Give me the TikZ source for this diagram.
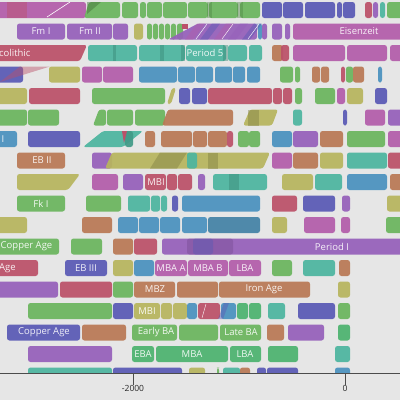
\documentclass[tikz,border=0pt]{standalone}
\usepackage{fontspec}
\usepackage{tikz}
\usetikzlibrary{positioning}
\newfontfamily\labfont{Open Sans}
\definecolor{bg}{HTML}{E6E6E6}
\definecolor{gr}{HTML}{6BB55E}
\definecolor{em}{HTML}{4DB36F}
\definecolor{mg}{HTML}{B35DAA}
\definecolor{pu}{HTML}{9660BA}
\definecolor{ix}{HTML}{5A5AB5}
\definecolor{bl}{HTML}{4B92BF}
\definecolor{db}{HTML}{4483A6}
\definecolor{te}{HTML}{4DB59F}
\definecolor{or}{HTML}{B97955}
\definecolor{rd}{HTML}{BB5169}
\definecolor{ol}{HTML}{B7B55E}
\tikzset{
  bar/.style={rounded corners=2.5pt,fill opacity=.93},
  shade/.style={fill opacity=.45},
  lab/.style={font=\labfont\fontsize{9.5}{10}\selectfont,text=white,text opacity=.9,inner sep=0pt},
  ticklab/.style={font=\labfont\fontsize{8.5}{9}\selectfont,text=black!85,inner sep=0pt},
  axisline/.style={draw=black!70,line width=.8pt},
}
% one period bar: row, from, to, colour
\newcommand{\pseg}[4]{\fill[#4,bar] (#2,{(#1-1)*21.5+2}) rectangle (#3,{(#1-1)*21.5+18});}
% slanted bar: row, bottom-left, top-left, top-right, bottom-right, colour
\newcommand{\pslant}[6]{\fill[#6,bar] (#2,{(#1-1)*21.5+18}) -- (#3,{(#1-1)*21.5+2}) -- (#4,{(#1-1)*21.5+2}) -- (#5,{(#1-1)*21.5+18}) -- cycle;}

\begin{document}
\begin{tikzpicture}[x=1pt,y=-1pt]
  \fill[bg] (0,0) rectangle (400,400);
  \useasboundingbox (0,0) rectangle (400,400);

  \begin{scope}
  \clip (0,0) rectangle (400,373);
  % row 1
  \foreach \a/\b/\c in {-10/86/mg,122/138/gr,140/146/gr,147/162/gr,163/187/gr,188/208/gr,
      209/238/gr,240/260/gr,262/282/ix,283/303/ix,305/335/ix,337/342/ix,343/355/ix,
      365/372/rd,373/378/pu,380/385/te,387/410/gr}
    \pseg{1}{\a}{\b}{\c};
  \fill[rd,shade] (7,2) rectangle (27,18);
  \draw[white,line width=.6pt] (47,17) -- (70,2);
  \pslant{1}{84}{89}{120}{120}{gr}
  \fill[gr!60!black,shade] (87,2) -- (101,2) -- (87,14) -- cycle;
  \foreach \a/\b in {207/212,237/243} \fill[gr!75!black,shade] (\a,2) rectangle (\b,18);
  % row 2
  \foreach \a/\b/\c in {17/65/pu,67/112/pu,113/128/pu,134/143/ol,147/152/gr,153/158/gr,
      159/164/gr,165/170/gr,171/176/gr,177/183/gr,258/262/bl,262/267/pu,272/282/pu,
      285/290/pu,293/410/mg}
    \pseg{2}{\a}{\b}{\c};
  \pslant{2}{168}{198}{257}{257}{pu}
  \foreach \s/\c in {185/mg,200/ix,214/mg,228/pu,242/ix}
    \fill[\c,shade] (\s,39.5) -- (\s+12,23.5) -- (\s+20,23.5) -- (\s+8,39.5) -- cycle;
  \foreach \s in {196,222,248} \draw[white,line width=.4pt] (\s,39) -- (\s+11,24);
  \fill[rd] (182,23.5) rectangle (188,29);
  \node[lab] (fmi) at (41,31.5) {Fm I};
  \node[lab] (fmii) at (90,31.5) {Fm II};
  \node[lab] (eisenzeit) at (359,31.5) {Eisenzeit};
  % row 3
  \pslant{3}{-10}{-10}{87}{80}{rd}
  \foreach \a/\b/\c in {88/137/te,139/185/te,186/226/te,228/247/te,249/262/te,
      272/283/or,281/289/rd,293/345/mg,347/387/mg,390/410/mg}
    \pseg{3}{\a}{\b}{\c};
  \foreach \a/\b in {113/116,160/164,181/185,223/228} \fill[te!75!black,shade] (\a,45) rectangle (\b,61);
  \node[lab,anchor=west] (colithic) at (-1,53) {colithic};
  \node[lab] (periodv) at (205,53) {Period 5};
  % row 4
  \foreach \a/\b/\c in {-10/23/ix,49/80/ol,82/102/mg,103/133/mg,139/177/bl,178/195/bl,
      196/213/bl,215/232/bl,233/245/bl,247/260/bl,280/293/gr,295/300/gr,312/320/or,
      321/329/or,341/345/rd,346/353/gr,353/364/or,378/382/bl}
    \pseg{4}{\a}{\b}{\c};
  \fill[rd,shade] (0,82) -- (20,66.5) -- (50,66.5) -- cycle;
  % row 5
  \foreach \a/\b/\c in {-10/27/ol,29/80/rd,92/165/gr,179/190/ix,192/207/ix,208/272/rd,
      273/282/rd,283/292/rd,295/302/gr,315/335/gr,337/345/mg,347/363/ol,375/387/ix}
    \pseg{5}{\a}{\b}{\c};
  \pslant{5}{167}{172}{176}{171}{ol}
  % row 6
  \foreach \a/\b/\c in {-10/27/gr,28/59/gr,107/133/gr,135/165/gr,293/302/te,343/347/ix,
      365/385/mg,388/410/pu}
    \pseg{6}{\a}{\b}{\c};
  \pslant{6}{93}{99}{106}{106}{gr}
  \pslant{6}{162}{168}{233}{233}{or}
  \pslant{6}{243}{250}{278}{272}{ol}
  \fill[ol!70!black,shade] (248,109.5) rectangle (259,125.5);
  % row 7
  \foreach \a/\b/\c in {-10/17/bl,28/80/ix,145/155/or,161/192/or,193/207/or,208/227/or,
      227/233/rd,238/249/gr,249/260/gr,272/292/bl,293/318/pu,320/343/or,347/385/gr,
      388/410/mg}
    \pseg{7}{\a}{\b}{\c};
  \pslant{7}{83}{103}{143}{123}{te}
  \pseg{7}{125}{133}{te!85!black}
  \fill[rd] (122,131) -- (127,131) -- (124,143) -- cycle;
  \node[lab] (ebi) at (3,139) {I};
  % row 8
  \foreach \a/\b/\c in {17/65/or,92/112/pu,272/292/mg,293/318/or,320/343/ol,347/387/te,
      388/410/rd}
    \pseg{8}{\a}{\b}{\c};
  \pslant{8}{105}{112}{270}{263}{ol}
  \fill[ol!70!black,shade] (150,168.5) -- (160,152.5) -- (187,152.5) -- (177,168.5) -- cycle;
  \fill[ol!70!black,shade] (208,152.5) rectangle (218,168.5);
  \pseg{8}{187}{197}{te}
  \node[lab] (ebii) at (42,160.5) {EB II};
  % row 9
  \foreach \a/\b/\c in {92/118/mg,123/143/pu,145/166/rd,167/177/rd,178/192/rd,198/205/pu,
      213/267/te,282/313/ol,315/342/te,347/387/bl,390/410/or}
    \pseg{9}{\a}{\b}{\c};
  \pslant{9}{17}{17}{80}{68}{ol}
  \fill[te!75!black,shade] (229,174) rectangle (239,190);
  \node[lab] (mbia) at (156,182) {MBI};
  % row 10
  \foreach \a/\b/\c in {17/65/gr,86/121/gr,128/150/te,151/160/te,161/167/te,172/178/ix,
      182/260/bl,272/297/rd,303/335/ix,342/350/pu,387/410/ol}
    \pseg{10}{\a}{\b}{\c};
  \node[lab] (fki) at (41,203.5) {Fk I};
  % row 11
  \foreach \a/\b/\c in {-10/27/ol,82/112/or,118/138/bl,139/159/bl,160/180/bl,182/207/bl,
      208/260/db,272/287/ol,304/335/mg,341/350/mg,386/410/gr}
    \pseg{11}{\a}{\b}{\c};
  % row 12
  \foreach \a/\b/\c in {-10/59/gr,71/102/gr,113/133/or,134/157/rd,162/410/pu}
    \pseg{12}{\a}{\b}{\c};
  \fill[pu!80!black,shade,rounded corners=2.5pt] (187,238.5) rectangle (233,254.5);
  \fill[ix,shade,rounded corners=2.5pt] (193,238.5) rectangle (213,254.5);
  \node[lab,anchor=west] (coppera) at (0.5,246.5) {Copper Age};
  \node[lab] (periodi) at (332,246.5) {Period I};
  % row 13
  \foreach \a/\b/\c in {-10/38/rd,65/107/ix,113/133/ol,134/154/bl,155/187/mg,188/228/mg,
      229/261/mg,272/292/gr,303/335/te,339/350/or}
    \pseg{13}{\a}{\b}{\c};
  \node[lab,anchor=west] (age) at (-1,268) {Age};
  \node[lab] (ebiii) at (86,268) {EB III};
  \node[lab] (mbaa) at (171,268) {MBA A};
  \node[lab] (mbab) at (208,268) {MBA B};
  \node[lab] (lbaa) at (245,268) {LBA};
  % row 14
  \foreach \a/\b/\c in {-10/58/pu,60/112/rd,113/133/gr,134/175/or,177/218/or,219/310/or,
      338/350/ol}
    \pseg{14}{\a}{\b}{\c};
  \node[lab] (mbz) at (155,289.5) {MBZ};
  \node[lab] (ironage) at (264,289.5) {Iron Age};
  % row 15
  \foreach \a/\b/\c in {28/112/gr,113/133/ix,134/160/ol,161/172/ol,173/187/ol,187/197/bl,
      198/220/rd,221/236/bl,237/248/em,249/261/em,268/285/te,298/335/ix,338/350/gr}
    \pseg{15}{\a}{\b}{\c};
  \fill[ix,shade] (218,319) -- (224,303) -- (229,303) -- (223,319) -- cycle;
  \draw[white,line width=.4pt] (202,318) -- (206,304);
  \node[lab] (mbib) at (147,311) {MBI};
  % row 16
  \foreach \a/\b/\c in {7/80/ix,82/126/or,132/177/gr,179/218/gr,220/261/gr,267/284/or,
      288/324/pu,338/350/em}
    \pseg{16}{\a}{\b}{\c};
  \node[lab] (copperb) at (44,332.5) {Copper Age};
  \node[lab] (earlyba) at (156,332.5) {Early BA};
  \node[lab] (lateba) at (241,332.5) {Late BA};
  % row 17
  \foreach \a/\b/\c in {28/112/pu,132/154/em,156/228/em,230/261/em,268/298/em,335/350/te}
    \pseg{17}{\a}{\b}{\c};
  \node[lab] (eba) at (143,354) {EBA};
  \node[lab] (mba) at (192,354) {MBA};
  \node[lab] (lbab) at (245,354) {LBA};
  % row 18
  \foreach \a/\b/\c in {28/112/te,113/182/ix,189/205/ol,217/219/gr,223/240/te,240/250/or,
      257/266/ix,267/298/ix,335/350/bl}
    \pseg{18}{\a}{\b}{\c};
  \end{scope}

  % axis
  \coordinate (axl) at (0,373);
  \coordinate (axr) at (400,373);
  \draw[axisline] (axl) -- (axr);
  \node[ticklab] (tm) at (133,388) {-2000};
  \node[ticklab] (tz) at (345,388) {0};
  \draw[axisline] (133,373) -- (tm.north);
  \draw[axisline] (345,373) -- (tz.north);
\end{tikzpicture}
\end{document}
